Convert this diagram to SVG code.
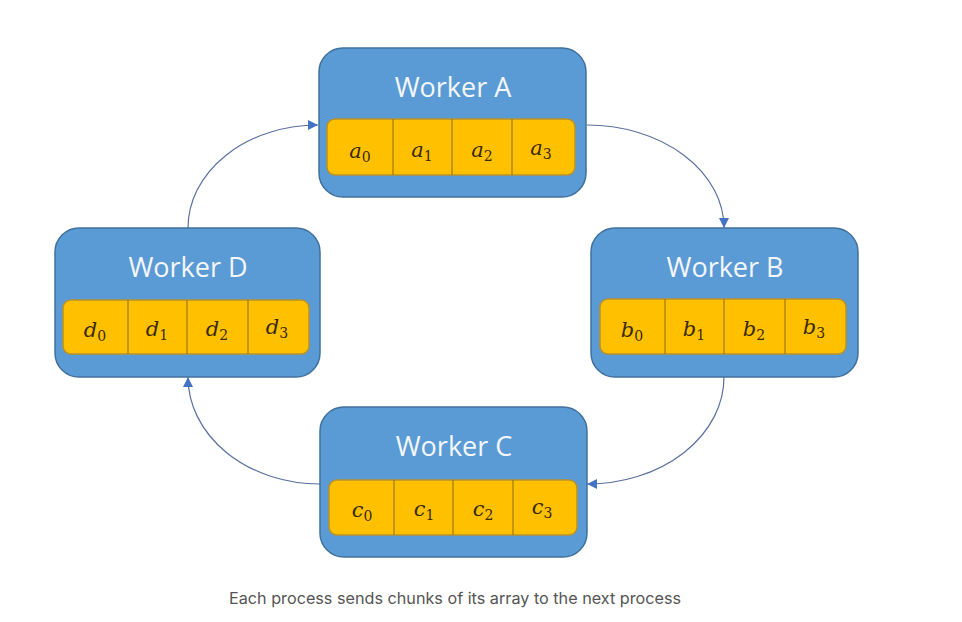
<svg xmlns="http://www.w3.org/2000/svg" width="962" height="622" viewBox="0 0 962 622">
<defs>
<style>
.box{fill:#5b9bd5;stroke:#41719c;stroke-width:1.5}
.strip{fill:#ffc000;stroke:#b8912a;stroke-width:1.5}
.div{stroke:#8a6d20;stroke-width:1}
.title{font-family:"Open Sans","Noto Sans",sans-serif;font-size:27px;fill:#f4f6fa;text-anchor:middle}
.v{font-family:"DejaVu Serif","Liberation Serif",serif;font-style:italic;font-size:21px;fill:#3a2a00;text-anchor:middle}
.sub{font-style:normal;font-size:14px}
.conn{fill:none;stroke:#5b6f9e;stroke-width:1.2}
.cap{font-family:Inter,"Noto Sans",sans-serif;font-size:16.2px;fill:#555}
</style>
<marker id="ah" viewBox="0 0 10 10" refX="10" refY="5" markerWidth="10" markerHeight="10" markerUnits="userSpaceOnUse" orient="auto">
<path d="M0,0 L10,5 L0,10 z" fill="#4472c4"/>
</marker>
</defs>
<rect width="962" height="622" fill="#fff"/>
<g id="connectors">
<path class="conn" d="M587,125 A137,103 0 0 1 724,228" marker-end="url(#ah)"/>
<path class="conn" d="M724,377 A137,107 0 0 1 587,484" marker-end="url(#ah)"/>
<path class="conn" d="M320,484 A132,107 0 0 1 188,377" marker-end="url(#ah)"/>
<path class="conn" d="M188,228 A130,103 0 0 1 318,125" marker-end="url(#ah)"/>
</g>
<g id="workerA">
<rect class="box" x="319" y="48" width="267" height="149" rx="24"/>
<text class="title" x="453" y="97">Worker A</text>
<rect class="strip" x="327" y="119" width="248" height="56" rx="8"/>
<line class="div" x1="393" y1="119" x2="393" y2="175"/>
<line class="div" x1="452" y1="119" x2="452" y2="175"/>
<line class="div" x1="512" y1="119" x2="512" y2="175"/>
<text class="v" x="360" y="158">a<tspan class="sub" dy="4">0</tspan></text>
<text class="v" x="422" y="157">a<tspan class="sub" dy="4">1</tspan></text>
<text class="v" x="482" y="157">a<tspan class="sub" dy="4">2</tspan></text>
<text class="v" x="541" y="155">a<tspan class="sub" dy="4">3</tspan></text>
</g>
<g id="workerB">
<rect class="box" x="591" y="228" width="267" height="149" rx="24"/>
<text class="title" x="725" y="277">Worker B</text>
<rect class="strip" x="600" y="299" width="246" height="55" rx="8"/>
<line class="div" x1="665" y1="299" x2="665" y2="354"/>
<line class="div" x1="724" y1="299" x2="724" y2="354"/>
<line class="div" x1="785" y1="299" x2="785" y2="354"/>
<text class="v" x="632" y="337">b<tspan class="sub" dy="4">0</tspan></text>
<text class="v" x="694" y="336">b<tspan class="sub" dy="4">1</tspan></text>
<text class="v" x="754" y="336">b<tspan class="sub" dy="4">2</tspan></text>
<text class="v" x="814" y="334">b<tspan class="sub" dy="4">3</tspan></text>
</g>
<g id="workerC">
<rect class="box" x="320" y="407" width="267" height="150" rx="24"/>
<text class="title" x="454" y="456">Worker C</text>
<rect class="strip" x="329" y="480" width="248" height="55" rx="8"/>
<line class="div" x1="394" y1="480" x2="394" y2="535"/>
<line class="div" x1="453" y1="480" x2="453" y2="535"/>
<line class="div" x1="513" y1="480" x2="513" y2="535"/>
<text class="v" x="362" y="517">c<tspan class="sub" dy="4">0</tspan></text>
<text class="v" x="424" y="516">c<tspan class="sub" dy="4">1</tspan></text>
<text class="v" x="483" y="516">c<tspan class="sub" dy="4">2</tspan></text>
<text class="v" x="542" y="514">c<tspan class="sub" dy="4">3</tspan></text>
</g>
<g id="workerD">
<rect class="box" x="55" y="228" width="265" height="149" rx="24"/>
<text class="title" x="188" y="277">Worker D</text>
<rect class="strip" x="63" y="300" width="246" height="54" rx="8"/>
<line class="div" x1="128" y1="300" x2="128" y2="354"/>
<line class="div" x1="187" y1="300" x2="187" y2="354"/>
<line class="div" x1="248" y1="300" x2="248" y2="354"/>
<text class="v" x="95" y="337">d<tspan class="sub" dy="4">0</tspan></text>
<text class="v" x="157" y="336">d<tspan class="sub" dy="4">1</tspan></text>
<text class="v" x="217" y="336">d<tspan class="sub" dy="4">2</tspan></text>
<text class="v" x="277" y="334">d<tspan class="sub" dy="4">3</tspan></text>
</g>
<text class="cap" x="229" y="604">Each process sends chunks of its array to the next process</text>
</svg>
